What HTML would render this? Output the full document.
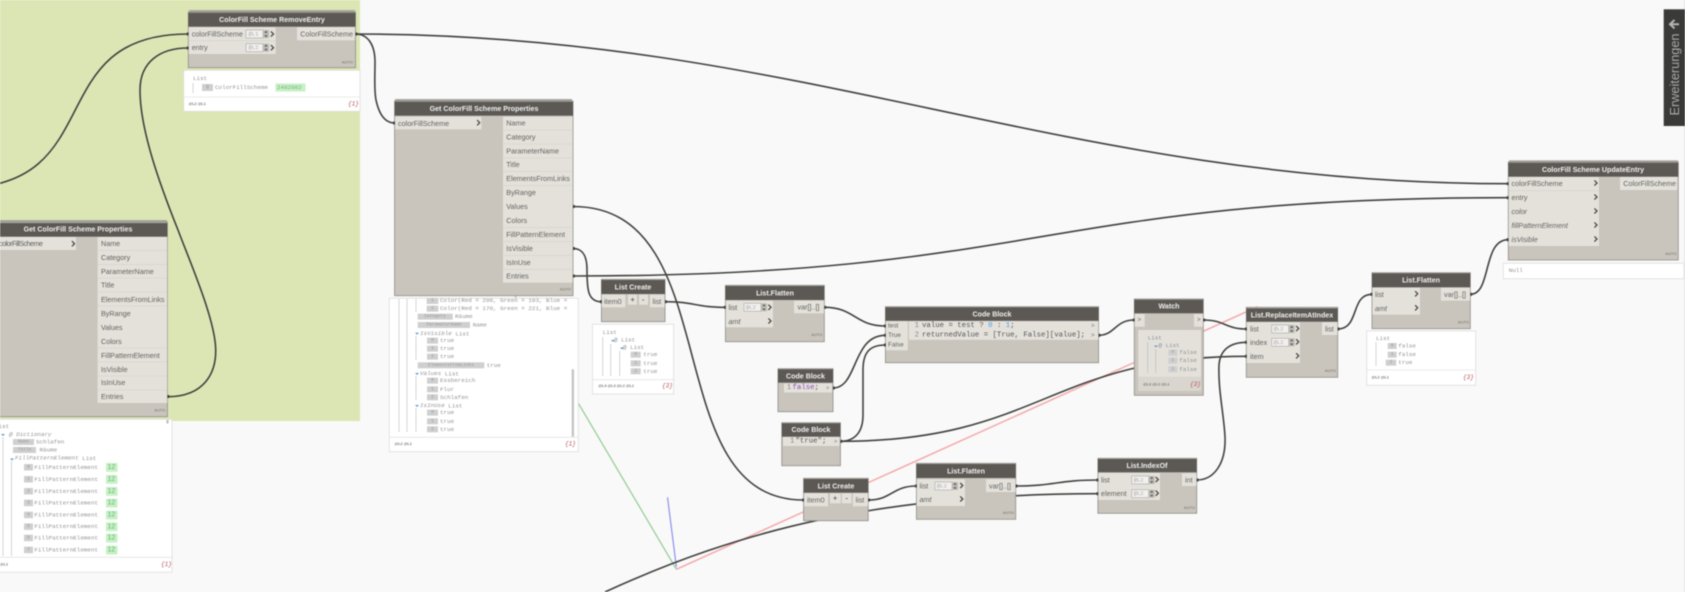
<!DOCTYPE html>
<html><head><meta charset="utf-8"><style>
html,body{margin:0;padding:0;background:#f9f9f9;width:1685px;height:592px;overflow:hidden}
svg{display:block;filter:blur(.45px)}
text{dominant-baseline:central;font-family:"Liberation Sans",sans-serif}
.h{font-size:7.1px;font-weight:bold;fill:#f0efec;text-anchor:middle}
.p{font-size:7.2px;fill:#62625f}
.i{font-size:7.2px;fill:#62625f;font-style:italic}
.a{font-size:4px;font-weight:bold;fill:#8a8a86;text-anchor:end}
.m{font-family:"Liberation Mono",monospace;font-size:5.9px;fill:#929292}
.c{font-family:"Liberation Mono",monospace;font-size:7.35px;fill:#555}
.f{font-family:"Liberation Sans",sans-serif;font-size:3.8px;font-weight:bold;fill:#777}
.n{font-family:"Liberation Mono",monospace;font-size:4.5px;fill:#999;text-anchor:middle}
.q{font-family:"Liberation Mono",monospace;font-size:5.5px;fill:#aaa}
.r{font-family:"Liberation Mono",monospace;font-size:6px;fill:#b05050;font-style:italic}
.g{font-size:7px;fill:#6fae7f}
.w{fill:none;stroke:#41413f;stroke-width:1.6}
.b{fill:#c9c5bd;stroke:#8e8c86;stroke-width:.8}
.t{fill:#5c5955}
.s{fill:#e4e1db}
.pv{fill:#fff;stroke:#dcdcdc;stroke-width:.8}
.l{stroke:#b9b9b9;stroke-width:.6;fill:none}
.d{stroke:#e4e4e4;stroke-width:.8}
.k{fill:#cfcfcf}
.sep{stroke:#d0cdc6;stroke-width:.5}
</style></head><body>
<svg width="1685" height="592" viewBox="0 0 1685 592" xmlns="http://www.w3.org/2000/svg">
<defs>
<path id="ch" d="M-1.6 -2.6L1 0L-1.6 2.6" fill="none" stroke="#4a4a48" stroke-width="1.3"/>
<g id="inp"><rect x="0" y="-4" width="17" height="8" fill="#f1f0ee" stroke="#a9a7a2" stroke-width=".6"/><rect x="17" y="-4" width="6" height="8" fill="#bdbab4"/><path d="M20 -3.2l1.6 2h-3.2zM20 3.2l1.6 -2h-3.2z" fill="#555"/></g>
</defs>
<rect x="0" y="0" width="360" height="421" fill="#dce6b4"/>
<rect x="1684" y="0" width="1" height="592" fill="#e6e6e6"/>

<!-- axes -->
<path d="M676.4 569.3L1257.7 306.7" stroke="#f4a6a6" stroke-width="1.4" fill="none"/>
<path d="M676.4 569.3L515 296" stroke="#92cc92" stroke-width="1.2" fill="none"/>
<path d="M676.4 567L667.5 497.3" stroke="#8f90ee" stroke-width="1.2" fill="none"/>

<!-- wires -->
<path class="w" d="M-40 188C110 188 40 34 188 34"/>
<path class="w" d="M167.4 396.7C205 396.7 216 372 215.7 350C215.5 320 190 262 178 230C160 185 140 130 140 90C140 62 160 48 188 48"/>
<path class="w" d="M355.5 34C368 34 375 45 375 62C375 75 374 90 376 100C379 114 385 123 394.6 123"/>
<path class="w" d="M355.5 34C800 34 1063 183.7 1508 183.7"/>
<path class="w" d="M573 276C1040 276 1041 197.7 1508 197.7"/>
<path class="w" d="M573 206.5C730 206.5 655 500 803.6 500"/>
<path class="w" d="M573 248.5C583 248.5 587 256 587 270C587 290 588 301.7 601.4 301.7"/>
<path class="w" d="M665 301.7C695 301.7 695 307.3 725.4 307.3"/>
<path class="w" d="M824.3 307.3C855 307.3 855 326 885.4 326"/>
<path class="w" d="M833 388C858 388 852 335.3 885.4 335.3"/>
<path class="w" d="M840.4 441.3C855 441.3 863 432 863 415L863 370C863 352 870 345 885.4 345"/>
<path class="w" d="M840.4 441.3C1040 441.3 1050 356.3 1246.7 356.3"/>
<path class="w" d="M1098.6 335.3C1115 335.3 1115 320 1134.3 320"/>
<path class="w" d="M1203.3 320C1225 320 1225 329 1246.7 329"/>
<path class="w" d="M1196.7 480C1215 480 1226 462 1225 437C1224 415 1218 390 1219 365C1220 350 1230 342.3 1246.7 342.3"/>
<path class="w" d="M1337.7 329C1360 329 1350 294.3 1372 294.3"/>
<path class="w" d="M1470.3 294.3C1492 294.3 1482 239.7 1508.3 239.7"/>
<path class="w" d="M868.2 500C892 500 892 486 916.4 486"/>
<path class="w" d="M1015.7 486C1055 486 1058 480 1098 480"/>
<path class="w" d="M605 592C740 530 880 494 1098 493.7"/>

<!-- RemoveEntry -->
<rect x="189" y="10" width="166" height="4" fill="#a9a69f"/>
<rect class="b" x="188.3" y="12" width="167.2" height="55.7"/>
<rect class="t" x="188.3" y="12.7" width="167.2" height="14"/>
<text class="h" x="272" y="20">ColorFill Scheme RemoveEntry</text>
<rect class="s" x="188.7" y="27.3" width="87" height="26.7"/><line class="sep" x1="188.7" y1="40.7" x2="275.7" y2="40.7"/>
<rect class="s" x="297" y="27.3" width="58" height="13"/>
<text class="p" x="191.7" y="34">colorFillScheme</text><text class="p" x="191.7" y="47.7">entry</text>
<text class="p" x="300.3" y="34">ColorFillScheme</text>
<use href="#inp" x="246" y="34"/><use href="#inp" x="246" y="47.7"/>
<text class="q" x="248.5" y="34">@L1</text><text class="q" x="248.5" y="47.7">@L2</text>
<use href="#ch" x="272.5" y="34"/><use href="#ch" x="272.5" y="47.7"/>
<text class="a" x="353" y="62">AUTO</text>
<rect class="pv" x="183.7" y="70.3" width="176.3" height="41"/><line class="d" x1="184" y1="97" x2="360" y2="97"/>
<text class="m" x="193" y="78.7">List</text><path class="l" d="M193 83V93"/>
<rect class="k" x="202" y="84" width="11" height="7"/><text class="n" x="207.5" y="87.5">@</text>
<text class="m" x="215" y="87.5">ColorFillScheme</text>
<rect x="275.5" y="83.5" width="30" height="8" fill="#c6f2c4"/><text class="m" x="277" y="87.5" style="fill:#7eaa86">2482982</text>
<text class="f" x="188.5" y="104">@L2 @L1</text><text class="r" x="348" y="104">{1}</text>

<!-- Get props left -->
<rect x="-11" y="220" width="178" height="4" fill="#a9a69f"/>
<rect class="b" x="-11" y="222" width="178.4" height="194.7"/>
<rect class="t" x="-11" y="223" width="178.4" height="13.7"/>
<text class="h" x="78" y="229.7">Get ColorFill Scheme Properties</text>
<rect class="s" x="-11" y="237" width="87" height="13"/>
<text class="p" x="-1" y="243.7" textLength="44">colorFillScheme</text>
<use href="#ch" x="73.5" y="243.7"/>
<rect class="s" x="97.6" y="237" width="69.6" height="166"/>
<g>
<text class="p" x="101" y="243.7">Name</text><text class="p" x="101" y="257.7">Category</text><text class="p" x="101" y="271.3">ParameterName</text><text class="p" x="101" y="285">Title</text><text class="p" x="101" y="299.3">ElementsFromLinks</text><text class="p" x="101" y="313.3">ByRange</text><text class="p" x="101" y="327.3">Values</text><text class="p" x="101" y="341.3">Colors</text><text class="p" x="101" y="355.3">FillPatternElement</text><text class="p" x="101" y="369.3">IsVisible</text><text class="p" x="101" y="382.7">IsInUse</text><text class="p" x="101" y="396.7">Entries</text>
</g>
<path class="sep" d="M97.6 250.5H167M97.6 264.5H167M97.6 278H167M97.6 292H167M97.6 306H167M97.6 348H167M97.6 362H167M97.6 376H167M97.6 390H167"/>
<text class="a" x="165.5" y="410">AUTO</text>
<rect class="pv" x="-2" y="419.3" width="174" height="153"/><line class="d" x1="0" y1="557.3" x2="172" y2="557.3"/>
<rect x="166.5" y="420" width="2" height="3.5" fill="#bbb"/>
<text class="m" x="-5" y="426.7">List</text>
<text class="m" x="9" y="434.7" style="font-style:italic">@ Dictionary</text>
<path d="M1 434l2 2 2-2z" fill="#5b9bd5"/>
<path class="l" d="M3 437V556M11.5 461V556"/>
<rect class="k" x="13" y="439" width="21" height="6"/><text class="n" x="23.5" y="442">Name</text><text class="m" x="36" y="442">Schlafen</text>
<rect class="k" x="13" y="447" width="23" height="6"/><text class="n" x="24.5" y="450">Title</text><text class="m" x="39.5" y="450">Räume</text>
<path d="M10 458.5l2 2 2-2z" fill="#5b9bd5"/>
<text class="m" x="15" y="458" style="font-style:italic">FillPatternElement <tspan font-style="normal">List</tspan></text>
<rect class="k" x="24" y="464" width="9" height="6.5"/><text class="n" x="28.5" y="467.3">0</text><text class="m" x="34.4" y="467.3">FillPatternElement</text><rect x="106" y="463" width="11.5" height="8.8" fill="#c6f2c4"/><text class="g" x="107.5" y="467.5">12</text>
<rect class="k" x="24" y="476" width="9" height="6.5"/><text class="n" x="28.5" y="479.3">1</text><text class="m" x="34.4" y="479.3">FillPatternElement</text><rect x="106" y="475" width="11.5" height="8.8" fill="#c6f2c4"/><text class="g" x="107.5" y="479.5">12</text>
<rect class="k" x="24" y="488" width="9" height="6.5"/><text class="n" x="28.5" y="491.3">2</text><text class="m" x="34.4" y="491.3">FillPatternElement</text><rect x="106" y="487" width="11.5" height="8.8" fill="#c6f2c4"/><text class="g" x="107.5" y="491.5">12</text>
<rect class="k" x="24" y="499.7" width="9" height="6.5"/><text class="n" x="28.5" y="503">3</text><text class="m" x="34.4" y="503">FillPatternElement</text><rect x="106" y="498.7" width="11.5" height="8.8" fill="#c6f2c4"/><text class="g" x="107.5" y="503.2">12</text>
<rect class="k" x="24" y="511.7" width="9" height="6.5"/><text class="n" x="28.5" y="515">4</text><text class="m" x="34.4" y="515">FillPatternElement</text><rect x="106" y="510.7" width="11.5" height="8.8" fill="#c6f2c4"/><text class="g" x="107.5" y="515.2">12</text>
<rect class="k" x="24" y="523.4" width="9" height="6.5"/><text class="n" x="28.5" y="526.7">5</text><text class="m" x="34.4" y="526.7">FillPatternElement</text><rect x="106" y="522.4" width="11.5" height="8.8" fill="#c6f2c4"/><text class="g" x="107.5" y="526.9">12</text>
<rect class="k" x="24" y="534.7" width="9" height="6.5"/><text class="n" x="28.5" y="538">6</text><text class="m" x="34.4" y="538">FillPatternElement</text><rect x="106" y="533.7" width="11.5" height="8.8" fill="#c6f2c4"/><text class="g" x="107.5" y="538.2">12</text>
<rect class="k" x="24" y="546.7" width="9" height="6.5"/><text class="n" x="28.5" y="550">7</text><text class="m" x="34.4" y="550">FillPatternElement</text><rect x="106" y="545.7" width="11.5" height="8.8" fill="#c6f2c4"/><text class="g" x="107.5" y="550.2">12</text>
<text class="f" x="0" y="564.7">@L1</text><text class="r" x="161" y="564.7">{1}</text>

<!-- Preview props 1 (under node) -->
<rect class="pv" x="389.3" y="298.3" width="189" height="153.4"/><line class="d" x1="389.5" y1="437.3" x2="578" y2="437.3"/>
<path class="l" d="M399 299V432M407 299V432M416 299V312M416 336V360M416 376V400M416 408V432"/>
<rect class="k" x="426.7" y="298" width="11.6" height="6"/><text class="n" x="432.5" y="300.5">1</text><text class="m" x="440" y="300.5">Color(Red = 200, Green = 193, Blue =</text>
<rect class="k" x="426.7" y="305.7" width="11.6" height="6"/><text class="n" x="432.5" y="308.7">2</text><text class="m" x="440" y="308.7">Color(Red = 170, Green = 221, Blue =</text>
<rect class="k" x="417.7" y="313.7" width="35" height="6"/><text class="n" x="435" y="316.7">Category</text><text class="m" x="455" y="316.7">Räume</text>
<rect class="k" x="417.7" y="322" width="52.3" height="6"/><text class="n" x="444" y="325">ParameterName</text><text class="m" x="472.7" y="325">Name</text>
<path d="M415 332.7l2 2 2-2z" fill="#5b9bd5"/><text class="m" x="420" y="333.3" style="font-style:italic">IsVisible <tspan font-style="normal">List</tspan></text>
<rect class="k" x="427" y="337.7" width="11" height="6"/><text class="n" x="432.5" y="340.7">0</text><text class="m" x="440" y="340.7">true</text>
<rect class="k" x="427" y="345.7" width="11" height="6"/><text class="n" x="432.5" y="348.7">1</text><text class="m" x="440" y="348.7">true</text>
<rect class="k" x="427" y="353.7" width="11" height="6"/><text class="n" x="432.5" y="356.7">2</text><text class="m" x="440" y="356.7">true</text>
<rect class="k" x="417.7" y="362.3" width="66.6" height="6"/><text class="n" x="451" y="365.3">ElementsFromLinks</text><text class="m" x="486.7" y="365.3">true</text>
<path d="M415 373l2 2 2-2z" fill="#5b9bd5"/><text class="m" x="420" y="373.3" style="font-style:italic">Values <tspan font-style="normal">List</tspan></text>
<rect class="k" x="427" y="377.7" width="11" height="6"/><text class="n" x="432.5" y="380.7">0</text><text class="m" x="440" y="380.7">Essbereich</text>
<rect class="k" x="427" y="386.3" width="11" height="6"/><text class="n" x="432.5" y="389.3">1</text><text class="m" x="440" y="389.3">Flur</text>
<rect class="k" x="427" y="394.3" width="11" height="6"/><text class="n" x="432.5" y="397.3">2</text><text class="m" x="440" y="397.3">Schlafen</text>
<path d="M415 405l2 2 2-2z" fill="#5b9bd5"/><text class="m" x="420" y="405.3" style="font-style:italic">IsInUse <tspan font-style="normal">List</tspan></text>
<rect class="k" x="427" y="409.7" width="11" height="6"/><text class="n" x="432.5" y="412.7">0</text><text class="m" x="440" y="412.7">true</text>
<rect class="k" x="427" y="418.3" width="11" height="6"/><text class="n" x="432.5" y="421.3">1</text><text class="m" x="440" y="421.3">true</text>
<rect class="k" x="427" y="426.3" width="11" height="6"/><text class="n" x="432.5" y="429.3">2</text><text class="m" x="440" y="429.3">true</text>
<rect x="571.7" y="369.3" width="2.3" height="67.4" fill="#c4c4c4"/>
<text class="f" x="394.5" y="444">@L2 @L1</text><text class="r" x="565" y="444">{1}</text>

<!-- Get props 1 -->
<rect x="395" y="99" width="177" height="4" fill="#a9a69f"/>
<rect class="b" x="394.6" y="101" width="178.4" height="194.7"/>
<rect class="t" x="394.6" y="101.7" width="178.4" height="14"/>
<text class="h" x="484" y="109">Get ColorFill Scheme Properties</text>
<rect class="s" x="395" y="116.7" width="86.4" height="12.6"/>
<text class="p" x="398" y="123.3">colorFillScheme</text><use href="#ch" x="478.7" y="122.7"/>
<rect class="s" x="503" y="116.7" width="69.6" height="166"/>
<text class="p" x="506.3" y="123">Name</text><text class="p" x="506.3" y="137">Category</text><text class="p" x="506.3" y="151">ParameterName</text><text class="p" x="506.3" y="164.5">Title</text><text class="p" x="506.3" y="178.5">ElementsFromLinks</text><text class="p" x="506.3" y="192.5">ByRange</text><text class="p" x="506.3" y="206.5">Values</text><text class="p" x="506.3" y="220.5">Colors</text><text class="p" x="506.3" y="234.5">FillPatternElement</text><text class="p" x="506.3" y="248.5">IsVisible</text><text class="p" x="506.3" y="262.5">IsInUse</text><text class="p" x="506.3" y="276">Entries</text>
<path class="sep" d="M503 130H572M503 144H572M503 158H572M503 171.5H572M503 185.5H572M503 227.5H572M503 241.5H572M503 255.5H572M503 269.5H572"/>
<text class="a" x="571" y="289">AUTO</text>

<!-- List Create 1 -->
<rect class="b" x="601.4" y="279.3" width="63.6" height="42.4"/>
<rect class="t" x="601.4" y="280" width="63.6" height="14"/>
<text class="h" x="633" y="287.3">List Create</text>
<rect class="s" x="601.8" y="294.7" width="23.6" height="12.6"/><text class="p" x="604" y="301.5">item0</text>
<rect class="s" x="627.9" y="294.7" width="9" height="10"/><text class="p" x="630.5" y="299.5" style="font-weight:bold">+</text>
<rect class="s" x="639" y="294.7" width="9" height="10"/><text class="p" x="642" y="299.5" style="font-weight:bold">-</text>
<rect class="s" x="650" y="294.7" width="14.6" height="12.6"/><text class="p" x="652.5" y="301.5">list</text>
<rect class="pv" x="592.5" y="324.3" width="81.1" height="69.7"/><line class="d" x1="592.8" y1="379.7" x2="673.4" y2="379.7"/>
<text class="m" x="602.7" y="332.3">List</text>
<path d="M611 340l2 2 2-2z" fill="#5b9bd5"/><text class="m" x="614" y="340">@ List</text>
<path d="M620 347.5l2 2 2-2z" fill="#5b9bd5"/><text class="m" x="623" y="347.3">@ List</text>
<path class="l" d="M602.7 337V376M610.7 344V376M619.7 351V376"/>
<rect class="k" x="630.7" y="351.7" width="10" height="6"/><text class="n" x="635.7" y="354.7">0</text><text class="m" x="643.3" y="354.7">true</text>
<rect class="k" x="630.7" y="360.3" width="10" height="6"/><text class="n" x="635.7" y="363.3">1</text><text class="m" x="643.3" y="363.3">true</text>
<rect class="k" x="630.7" y="368.3" width="10" height="6"/><text class="n" x="635.7" y="371.3">2</text><text class="m" x="643.3" y="371.3">true</text>
<text class="f" x="598.3" y="386">@L4 @L3 @L2 @L1</text><text class="r" x="662" y="386">{3}</text>

<!-- List.Flatten 1 -->
<rect class="b" x="725.4" y="285.3" width="98.9" height="56.4"/>
<rect class="t" x="725.4" y="286" width="98.9" height="14"/>
<text class="h" x="775" y="293.5">List.Flatten</text>
<rect class="s" x="725.8" y="300.7" width="47.2" height="26.6"/>
<text class="p" x="728.5" y="307.5">list</text><text class="i" x="728.5" y="321.3">amt</text>
<use href="#inp" x="744" y="307.3"/><text class="q" x="746" y="307.3">@L2</text>
<use href="#ch" x="770" y="307.3"/><use href="#ch" x="770" y="321"/>
<rect class="s" x="794" y="300.7" width="30" height="12.6"/><text class="p" x="797.5" y="307.2">var[]..[]</text>
<text class="a" x="822.5" y="334.3">AUTO</text>

<!-- Code Block big -->
<rect class="b" x="885.4" y="306.7" width="213.2" height="56"/>
<rect class="t" x="885.4" y="307.3" width="213.2" height="13.5"/>
<text class="h" x="992" y="314.3">Code Block</text>
<rect class="s" x="885.8" y="321.3" width="22" height="29"/>
<text class="p" x="888" y="326" style="font-size:6.4px">test</text><text class="p" x="888" y="335.5" style="font-size:6.4px">True</text><text class="p" x="888" y="345" style="font-size:6.4px">False</text>
<rect class="s" x="909" y="321.3" width="189.3" height="18.5"/>
<text class="c" x="914.6" y="326" style="fill:#888">1</text><text class="c" x="922" y="326">value = test ? <tspan fill="#4a9df0">0</tspan> : <tspan fill="#4a9df0">1</tspan>;</text>
<text class="c" x="914.6" y="335.5" style="fill:#888">2</text><text class="c" x="922" y="335.5">returnedValue = [True, False][value];</text>
<text class="c" x="1091" y="326" style="fill:#777;font-size:6px">&gt;</text><text class="c" x="1091" y="335.5" style="fill:#777;font-size:6px">&gt;</text>

<!-- Code Block false -->
<rect class="b" x="778" y="368.7" width="55" height="43"/>
<rect class="t" x="778" y="369.3" width="55" height="13.4"/>
<text class="h" x="805.5" y="376.3">Code Block</text>
<rect class="s" x="784" y="383.5" width="48" height="9"/>
<text class="c" x="786.8" y="388" style="fill:#888">1</text><text class="c" x="792.5" y="388"><tspan fill="#8a4fb5">false</tspan>;</text>
<text class="c" x="826" y="388" style="fill:#777;font-size:5.5px">&gt;</text>

<!-- Code Block true -->
<rect class="b" x="781.8" y="422.7" width="58.6" height="43"/>
<rect class="t" x="781.8" y="423.3" width="58.6" height="13.4"/>
<text class="h" x="811" y="430">Code Block</text>
<rect class="s" x="783" y="437" width="56.5" height="9"/>
<text class="c" x="790" y="441.3" style="fill:#888">1</text><text class="c" x="795.5" y="441.3">"true";</text>
<text class="c" x="834" y="441.3" style="fill:#777;font-size:5.5px">&gt;</text>

<!-- List Create 2 -->
<rect class="b" x="803.6" y="478.3" width="64.6" height="42.4"/>
<rect class="t" x="803.6" y="479" width="64.6" height="13.7"/>
<text class="h" x="836" y="486.3">List Create</text>
<rect class="s" x="804" y="493.3" width="24" height="13"/><text class="p" x="807" y="500">item0</text>
<rect class="s" x="830" y="493.3" width="10.7" height="10"/><text class="p" x="833" y="498" style="font-weight:bold">+</text>
<rect class="s" x="842" y="493.3" width="9.4" height="10"/><text class="p" x="845.5" y="498" style="font-weight:bold">-</text>
<rect class="s" x="852.9" y="493.3" width="15" height="13"/><text class="p" x="855.5" y="500">list</text>

<!-- List.Flatten 2 -->
<rect class="b" x="916.4" y="463.3" width="99.3" height="56"/>
<rect class="t" x="916.4" y="464" width="99.3" height="14"/>
<text class="h" x="966" y="471.5">List.Flatten</text>
<rect class="s" x="916.8" y="479.3" width="48.2" height="26.7"/>
<text class="p" x="919.5" y="486">list</text><text class="i" x="919.5" y="499.3">amt</text>
<use href="#inp" x="935" y="486"/><text class="q" x="937" y="486">@L2</text>
<use href="#ch" x="961.8" y="485.5"/><use href="#ch" x="961.8" y="499"/>
<rect class="s" x="986" y="479.3" width="29.5" height="12.7"/><text class="p" x="989" y="486">var[]..[]</text>
<text class="a" x="1014" y="512.7">AUTO</text>

<!-- List.IndexOf -->
<rect class="b" x="1097.9" y="458.3" width="98.8" height="55"/>
<rect class="t" x="1097.9" y="459" width="98.8" height="13.3"/>
<text class="h" x="1147" y="466">List.IndexOf</text>
<rect class="s" x="1098.3" y="473" width="61.7" height="27"/>
<text class="p" x="1101" y="480">list</text><text class="p" x="1101" y="493.7">element</text>
<use href="#inp" x="1131.7" y="480"/><text class="q" x="1133.7" y="480">@L2</text>
<use href="#inp" x="1131.7" y="493.7"/><text class="q" x="1133.7" y="493.7">@L2</text>
<use href="#ch" x="1157.3" y="479.5"/><use href="#ch" x="1157.3" y="493.2"/>
<rect class="s" x="1182" y="473.3" width="14.4" height="12.7"/><text class="p" x="1185" y="480">int</text>
<text class="a" x="1195" y="507.3">AUTO</text>

<!-- Watch -->
<rect class="b" x="1134.3" y="299" width="69" height="96.3"/>
<rect class="t" x="1134.3" y="299.7" width="69" height="13.6"/>
<text class="h" x="1169" y="306.5">Watch</text>
<rect class="s" x="1134.7" y="314" width="10" height="12.7"/><text class="c" x="1137.5" y="320" style="font-size:6px;fill:#666">&gt;</text>
<rect class="s" x="1194" y="314" width="9" height="12.7"/><text class="c" x="1197" y="320" style="font-size:6px;fill:#666">&gt;</text>
<rect x="1138.3" y="330" width="62.7" height="61" fill="#d9d6cf"/>
<rect class="s" x="1138.3" y="330" width="62.7" height="46.7"/>
<text class="m" x="1147.7" y="338">List</text>
<path d="M1154 345.5l2 2 2-2z" fill="#5b9bd5"/><text class="m" x="1158.5" y="345.3">@ List</text>
<path class="l" d="M1147.7 342V373M1155.7 349V373"/>
<rect class="k" x="1168.3" y="349.7" width="9" height="6"/><text class="n" x="1172.8" y="352.7">0</text><text class="m" x="1179.3" y="352.7">false</text>
<rect class="k" x="1168.3" y="357.7" width="9" height="6"/><text class="n" x="1172.8" y="360.7">1</text><text class="m" x="1179.3" y="360.7">false</text>
<rect class="k" x="1168.3" y="366.3" width="9" height="6"/><text class="n" x="1172.8" y="369.3">2</text><text class="m" x="1179.3" y="369.3">false</text>
<text class="f" x="1143" y="384.7">@L3 @L2 @L1</text><text class="r" x="1190" y="384.7">{3}</text>

<!-- ReplaceItem -->
<rect class="b" x="1246.3" y="307.3" width="91.4" height="70"/>
<rect class="t" x="1246.3" y="308.3" width="91.4" height="13.4"/>
<text class="h" x="1292" y="315.3">List.ReplaceItemAtIndex</text>
<rect class="s" x="1246.7" y="322.3" width="53.3" height="40.7"/>
<text class="p" x="1250" y="329">list</text><text class="p" x="1250" y="342.3">index</text><text class="p" x="1250" y="356.3">item</text>
<use href="#inp" x="1271.7" y="329"/><text class="q" x="1273.7" y="329">@L2</text>
<use href="#inp" x="1271.7" y="342.3"/><text class="q" x="1273.7" y="342.3">@L2</text>
<use href="#ch" x="1297.7" y="328.5"/><use href="#ch" x="1297.7" y="341.8"/><use href="#ch" x="1297.7" y="355.8"/>
<rect class="s" x="1322" y="322.3" width="15.4" height="12.7"/><text class="p" x="1325" y="329">list</text>
<text class="a" x="1336" y="370.3">AUTO</text>

<!-- List.Flatten 3 -->
<rect class="b" x="1372" y="272.7" width="98.3" height="56"/>
<rect class="t" x="1372" y="273.3" width="98.3" height="14"/>
<text class="h" x="1421" y="280.5">List.Flatten</text>
<rect class="s" x="1372.4" y="287.7" width="47.6" height="27"/>
<text class="p" x="1375" y="294.3">list</text><text class="i" x="1375" y="308.3">amt</text>
<use href="#ch" x="1416.7" y="293.8"/><use href="#ch" x="1416.7" y="307.8"/>
<rect class="s" x="1441" y="287.7" width="29" height="13"/><text class="p" x="1444" y="294.3">var[]..[]</text>
<text class="a" x="1469" y="322">AUTO</text>
<rect class="pv" x="1366.7" y="331" width="109" height="54.3"/><line class="d" x1="1367" y1="370" x2="1475.5" y2="370"/>
<text class="m" x="1376" y="338.3">List</text><path class="l" d="M1376 342V366"/>
<rect class="k" x="1387.7" y="343" width="9" height="6"/><text class="n" x="1392.2" y="346">0</text><text class="m" x="1398.3" y="346">false</text>
<rect class="k" x="1387.7" y="351.7" width="9" height="6"/><text class="n" x="1392.2" y="354.7">1</text><text class="m" x="1398.3" y="354.7">false</text>
<rect class="k" x="1385.7" y="359.7" width="10.5" height="6"/><text class="n" x="1391" y="362.7">2</text><text class="m" x="1398.3" y="362.7">true</text>
<text class="f" x="1371.5" y="377.3">@L2 @L1</text><text class="r" x="1463" y="377.3">{3}</text>

<!-- UpdateEntry -->
<rect x="1509" y="160.3" width="169" height="4" fill="#a9a69f"/>
<rect class="b" x="1508.3" y="162" width="170" height="98"/>
<rect class="t" x="1508.3" y="162.7" width="170" height="14"/>
<text class="h" x="1593" y="170">ColorFill Scheme UpdateEntry</text>
<rect class="s" x="1508.7" y="177" width="90.3" height="69"/>
<line class="sep" x1="1508.7" y1="190.7" x2="1599" y2="190.7"/>
<text class="p" x="1511.5" y="183.7">colorFillScheme</text><text class="p" x="1511.5" y="197.7">entry</text><text class="i" x="1511.5" y="211.7">color</text><text class="i" x="1511.5" y="225.7">fillPatternElement</text><text class="i" x="1511.5" y="239.7">isVisible</text>
<use href="#ch" x="1596" y="183"/><use href="#ch" x="1596" y="197"/><use href="#ch" x="1596" y="211"/><use href="#ch" x="1596" y="225"/><use href="#ch" x="1596" y="239"/>
<rect class="s" x="1620" y="177" width="57.3" height="13"/><text class="p" x="1623.3" y="183.7">ColorFillScheme</text>
<text class="a" x="1676.5" y="253.3">AUTO</text>
<rect class="pv" x="1503.3" y="263.3" width="180.7" height="15.4"/><text class="m" x="1508.7" y="270.7">Null</text>

<!-- Wire ends -->
<g fill="#3e3e3c">
<rect x="186.8" y="32.5" width="1.8" height="3"/><rect x="186.8" y="46.5" width="1.8" height="3"/><rect x="355.5" y="32.5" width="1.8" height="3"/>
<rect x="393.2" y="121.5" width="1.8" height="3"/><rect x="573" y="205" width="1.8" height="3"/><rect x="573" y="247" width="1.8" height="3"/><rect x="573" y="274.5" width="1.8" height="3"/>
<rect x="167.4" y="395" width="1.8" height="3"/><rect x="600" y="300.2" width="1.8" height="3"/><rect x="665" y="300.2" width="1.8" height="3"/>
<rect x="724" y="305.8" width="1.8" height="3"/><rect x="824.3" y="305.8" width="1.8" height="3"/>
<rect x="884" y="324.5" width="1.8" height="3"/><rect x="884" y="333.8" width="1.8" height="3"/><rect x="884" y="343.5" width="1.8" height="3"/><rect x="1098.6" y="333.8" width="1.8" height="3"/>
<rect x="833" y="386.5" width="1.8" height="3"/><rect x="840.4" y="439.8" width="1.8" height="3"/>
<rect x="802.2" y="498.5" width="1.8" height="3"/><rect x="868.2" y="498.5" width="1.8" height="3"/><rect x="915" y="484.5" width="1.8" height="3"/><rect x="1015.7" y="484.5" width="1.8" height="3"/>
<rect x="1096.5" y="478.5" width="1.8" height="3"/><rect x="1096.5" y="492.2" width="1.8" height="3"/><rect x="1196.7" y="478.5" width="1.8" height="3"/>
<rect x="1132.8" y="318.5" width="1.8" height="3"/><rect x="1203.3" y="318.5" width="1.8" height="3"/>
<rect x="1245" y="327.5" width="1.8" height="3"/><rect x="1245" y="340.8" width="1.8" height="3"/><rect x="1245" y="354.8" width="1.8" height="3"/><rect x="1337.7" y="327.5" width="1.8" height="3"/>
<rect x="1370.5" y="292.8" width="1.8" height="3"/><rect x="1470.3" y="292.8" width="1.8" height="3"/>
<rect x="1506.8" y="182.2" width="1.8" height="3"/><rect x="1506.8" y="196.2" width="1.8" height="3"/><rect x="1506.8" y="238.2" width="1.8" height="3"/>
</g>

<!-- Extensions tab -->
<rect x="1663.7" y="9.3" width="21.3" height="116.7" fill="#3a3a38"/>
<path d="M1674.5 20l-4.5 4.2 4.5 4.2M1670.5 24.2H1679" fill="none" stroke="#b5b5b5" stroke-width="2"/>
<text transform="translate(1674.5 74.5) rotate(-90)" text-anchor="middle" textLength="82" lengthAdjust="spacingAndGlyphs" style="font-size:12.8px;fill:#a8a8a8">Erweiterungen</text>
</svg>
</body></html>
